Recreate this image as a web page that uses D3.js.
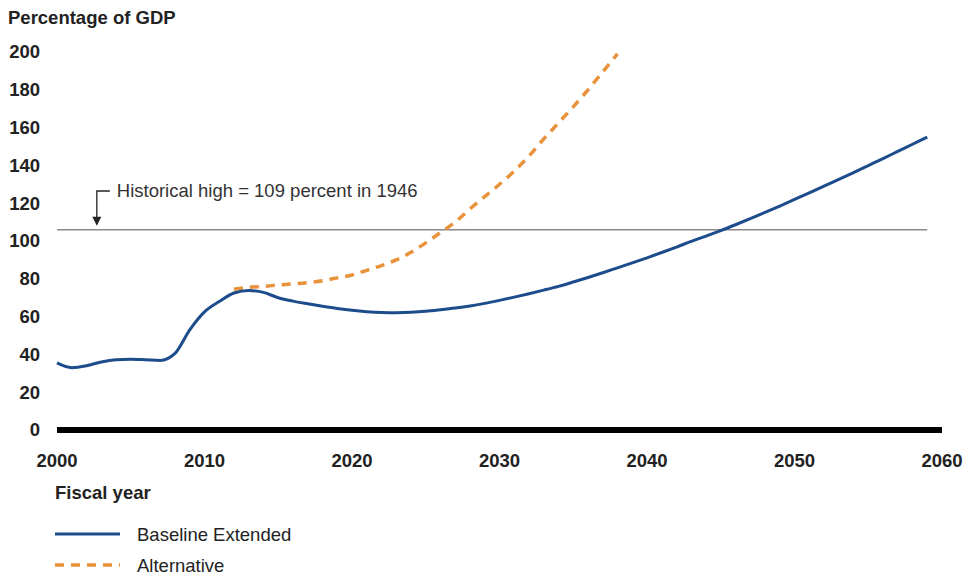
<!DOCTYPE html>
<html>
<head>
<meta charset="utf-8">
<script src="https://cdn.jsdelivr.net/npm/d3@7"></script>
<style>
  html, body { margin: 0; padding: 0; background: #fff; }
  svg { display: block; font-family: "Liberation Sans", Arial, sans-serif; }
</style>
</head>
<body>
<svg id="chart" width="978" height="575"></svg>
<script>
// ---- data ----
const baselineYears = d3.range(2000, 2060);
const baselineValues = [
  35.5, 33.0, 34.0, 36.0, 37.2, 37.5, 37.2, 36.8, 40.5, 53.0,
  62.5, 68.0, 72.5, 73.8, 72.8, 70.0, 68.2, 66.8, 65.5, 64.3,
  63.3, 62.6, 62.2, 62.1, 62.3, 62.8, 63.6, 64.5, 65.6, 67.0,
  68.6, 70.3, 72.1, 74.0, 76.0, 78.3, 80.7, 83.2, 85.8, 88.4,
  91.1, 93.9, 96.8, 99.8, 102.6, 105.5, 108.6, 111.8, 115.1, 118.5,
  122.0, 125.5, 129.0, 132.6, 136.2, 139.9, 143.6, 147.4, 151.2, 155.0
];
const alternativeYears = d3.range(2012, 2039);
const alternativeValues = [
  74.5, 75.5, 76.0, 76.7, 77.3, 78.0, 79.0, 80.5, 82.0, 84.5,
  87.0, 90.0, 94.0, 99.0, 104.5, 110.0, 117.0, 123.5, 130.0, 137.0,
  145.0, 154.0, 162.5, 171.0, 180.0, 189.5, 199.0
];
const yTicks = [0, 20, 40, 60, 80, 100, 120, 140, 160, 180, 200];
const xTicks = [2000, 2010, 2020, 2030, 2040, 2050, 2060];
const historicalHighLine = 106;
const arrowYear = 2002.7;
const seriesNames = ["Baseline Extended", "Alternative"];
const titleText = "Percentage of GDP";
const xTitleText = "Fiscal year";
const annotationText = "Historical high = 109 percent in 1946";

// ---- scales ----
const x = d3.scaleLinear().domain([2000, 2060]).range([57, 942]);
const y = d3.scaleLinear().domain([0, 200]).range([430, 52]);

const svg = d3.select("#chart");
const blue = "#1d4c8c";
const orange = "#e8923b";
const fs = 18.5;

// titles
svg.append("text").attr("x", 8).attr("y", 18).attr("dy", "0.35em")
  .attr("font-size", fs).attr("font-weight", "bold").attr("fill", "#222")
  .text(titleText);

// y axis labels
svg.append("g").selectAll("text").data(yTicks).join("text")
  .attr("x", 40).attr("y", d => y(d)).attr("dy", "0.35em")
  .attr("text-anchor", "end").attr("font-size", fs).attr("font-weight", "bold")
  .attr("fill", "#222").text(d => d);

// x axis labels
svg.append("g").selectAll("text").data(xTicks).join("text")
  .attr("x", d => x(d)).attr("y", 461).attr("dy", "0.35em")
  .attr("text-anchor", "middle").attr("font-size", fs).attr("font-weight", "bold")
  .attr("fill", "#222").text(d => d);

svg.append("text").attr("x", 55).attr("y", 493).attr("dy", "0.35em")
  .attr("font-size", fs).attr("font-weight", "bold").attr("fill", "#222")
  .text(xTitleText);

// historical high line
svg.append("line")
  .attr("x1", x(2000)).attr("x2", x(2059))
  .attr("y1", y(historicalHighLine)).attr("y2", y(historicalHighLine))
  .attr("stroke", "#8a8a8a").attr("stroke-width", 1.5);

// annotation arrow
const ax = x(arrowYear);
svg.append("path")
  .attr("d", `M${ax + 13},${191} H${ax} V${y(historicalHighLine) - 12}`)
  .attr("fill", "none").attr("stroke", "#222").attr("stroke-width", 1.3);
svg.append("path")
  .attr("d", `M${ax - 4.5},${y(historicalHighLine) - 13} L${ax + 4.5},${y(historicalHighLine) - 13} L${ax},${y(historicalHighLine) - 4} Z`)
  .attr("fill", "#222");
svg.append("text").attr("x", ax + 20).attr("y", 191).attr("dy", "0.35em")
  .attr("font-size", fs).attr("fill", "#333").text(annotationText);

// zero axis line
svg.append("line")
  .attr("x1", x(2000)).attr("x2", x(2060))
  .attr("y1", y(0)).attr("y2", y(0))
  .attr("stroke", "#000").attr("stroke-width", 6);

// lines
const line = d3.line().x(d => x(d[0])).y(d => y(d[1])).curve(d3.curveMonotoneX);

svg.append("path")
  .datum(alternativeYears.map((yr, i) => [yr, alternativeValues[i]]))
  .attr("d", line).attr("fill", "none").attr("stroke", orange)
  .attr("stroke-width", 3.5).attr("stroke-dasharray", "9,7");

svg.append("path")
  .datum(baselineYears.map((yr, i) => [yr, baselineValues[i]]))
  .attr("d", line).attr("fill", "none").attr("stroke", blue)
  .attr("stroke-width", 3);

// legend
const legend = svg.append("g");
const legendRows = [
  { name: seriesNames[0], color: blue, dash: null, w: 3, yy: 534 },
  { name: seriesNames[1], color: orange, dash: "9,7", w: 3.5, yy: 565 }
];
legendRows.forEach(r => {
  legend.append("line").attr("x1", 55).attr("x2", 120).attr("y1", r.yy).attr("y2", r.yy)
    .attr("stroke", r.color).attr("stroke-width", r.w)
    .attr("stroke-dasharray", r.dash);
  legend.append("text").attr("x", 137).attr("y", r.yy + 1).attr("dy", "0.35em")
    .attr("font-size", fs).attr("fill", "#222").text(r.name);
});
</script>
</body>
</html>
